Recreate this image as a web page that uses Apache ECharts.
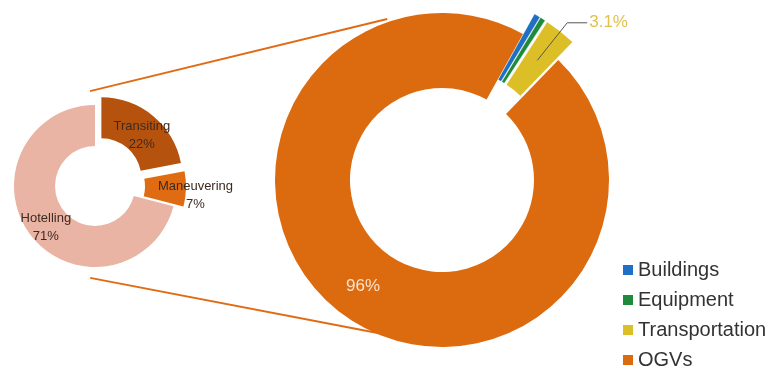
<!DOCTYPE html>
<html>
<head>
<meta charset="utf-8">
<script src="https://cdn.jsdelivr.net/npm/echarts@6/dist/echarts.min.js"></script>
<style>
html,body{margin:0;padding:0;background:#fff;}
#chart{width:774px;height:373px;}
</style>
</head>
<body>
<div id="chart"></div>
<script>
// ---- data ----
const ogvCategories = ['Transiting', 'Maneuvering', 'Hotelling'];
const ogvValues = [22, 7, 71];
const ogvColors = ['#b5530e', '#df6c12', '#e9b4a4'];

const sectorCategories = ['Buildings', 'Equipment', 'Transportation', 'OGVs'];
const sectorValues = [0.6, 0.5, 3.1, 95.8];
const sectorColors = ['#1f6fc4', '#1e8a3c', '#dcbf26', '#dc6a0e'];

// ---- geometry ----
const SMALL = { cx: 95, cy: 186, r: 40, R: 81, offset: 10 };
const BIG = { cx: 442, cy: 180, r: 92, R: 167, offset: 23 };
const FONT = '"Liberation Sans", Arial, sans-serif';

function polar(c, dist, deg) {
  const a = deg * Math.PI / 180;
  return [c.cx + dist * Math.sin(a), c.cy - dist * Math.cos(a)];
}

const chart = echarts.init(document.getElementById('chart'), null, { renderer: 'canvas' });

const smallData = ogvCategories.map((n, i) => ({
  name: n, value: ogvValues[i],
  selected: i < 2,
  itemStyle: { color: ogvColors[i] }
}));

const bigData = sectorCategories.map((n, i) => ({
  name: n, value: sectorValues[i],
  selected: i < 3,
  itemStyle: {
    color: sectorColors[i],
    borderColor: i < 3 ? '#ffffff' : sectorColors[i],
    borderWidth: i < 3 ? 0.3 : 0
  },
  label: i === 3 ? { show: true } : { show: false }
}));

const overlayData = sectorCategories.map((n, i) => ({
  name: n, value: sectorValues[i],
  selected: i < 3,
  itemStyle: { color: 'rgba(0,0,0,0)' },
  label: { show: i === 2 },
  labelLine: { show: i === 2 }
}));

const fmtPct = p => (p.value >= 10 ? Math.round(p.value) : p.value.toFixed(1)) + '%';
const smallLabelShift = [{ dx: 0, dy: 6 }, { dx: 27, dy: 7 }, { dx: 1, dy: 3 }];

const t1 = polar(SMALL, 95, -3), t2 = polar(BIG, 170, -18.8);
const b1 = polar(SMALL, 92, 183), b2 = polar(BIG, 165, 201);

chart.setOption({
  animation: false,
  textStyle: { fontFamily: FONT },
  legend: {
    orient: 'vertical',
    left: 623,
    top: 260,
    height: 120,
    padding: 0,
    itemWidth: 10,
    itemHeight: 10,
    itemGap: 10,
    icon: 'rect',
    data: sectorCategories,
    itemStyle: { borderWidth: 0 },
    textStyle: { fontSize: 20, color: '#333333', fontFamily: FONT }
  },
  graphic: [
    { type: 'line', shape: { x1: t1[0], y1: t1[1], x2: t2[0], y2: t2[1] },
      style: { stroke: '#e06b14', lineWidth: 2 }, silent: true },
    { type: 'line', shape: { x1: b1[0], y1: b1[1], x2: b2[0], y2: b2[1] },
      style: { stroke: '#e06b14', lineWidth: 2 }, silent: true }
  ],
  series: [
    {
      type: 'pie',
      name: 'OGV modes',
      center: [SMALL.cx, SMALL.cy],
      radius: [SMALL.r, SMALL.R],
      startAngle: 90,
      clockwise: true,
      selectedMode: 'multiple',
      selectedOffset: SMALL.offset,
      avoidLabelOverlap: false,
      data: smallData,
      label: {
        show: true,
        position: 'inside',
        formatter: p => p.name + '\n' + p.value + '%',
        fontSize: 13,
        lineHeight: 18,
        color: '#3d2a20',
        fontFamily: FONT
      },
      labelLayout: p => smallLabelShift[p.dataIndex],
      labelLine: { show: false },
      emphasis: { disabled: true }
    },
    {
      type: 'pie',
      name: 'Sectors',
      center: [BIG.cx, BIG.cy],
      radius: [BIG.r, BIG.R],
      startAngle: 61,
      clockwise: true,
      selectedMode: 'multiple',
      selectedOffset: BIG.offset,
      avoidLabelOverlap: false,
      data: bigData,
      label: {
        position: 'inside',
        formatter: fmtPct,
        fontSize: 17,
        color: '#fde2cc',
        fontFamily: FONT
      },
      labelLine: { show: false },
      emphasis: { disabled: true }
    },
    {
      type: 'pie',
      name: 'SectorLabels',
      silent: true,
      z: 5,
      center: [BIG.cx, BIG.cy],
      radius: [BIG.r, 130],
      startAngle: 61,
      clockwise: true,
      selectedMode: 'multiple',
      selectedOffset: BIG.offset,
      avoidLabelOverlap: false,
      data: overlayData,
      label: {
        position: 'outside',
        formatter: fmtPct,
        fontSize: 17,
        color: '#e0c24c',
        fontFamily: FONT,
        distanceToLabelLine: 2
      },
      labelLine: {
        length: 48,
        length2: 20,
        lineStyle: { color: '#555555', width: 1 }
      },
      emphasis: { disabled: true }
    }
  ]
});
</script>
</body>
</html>
